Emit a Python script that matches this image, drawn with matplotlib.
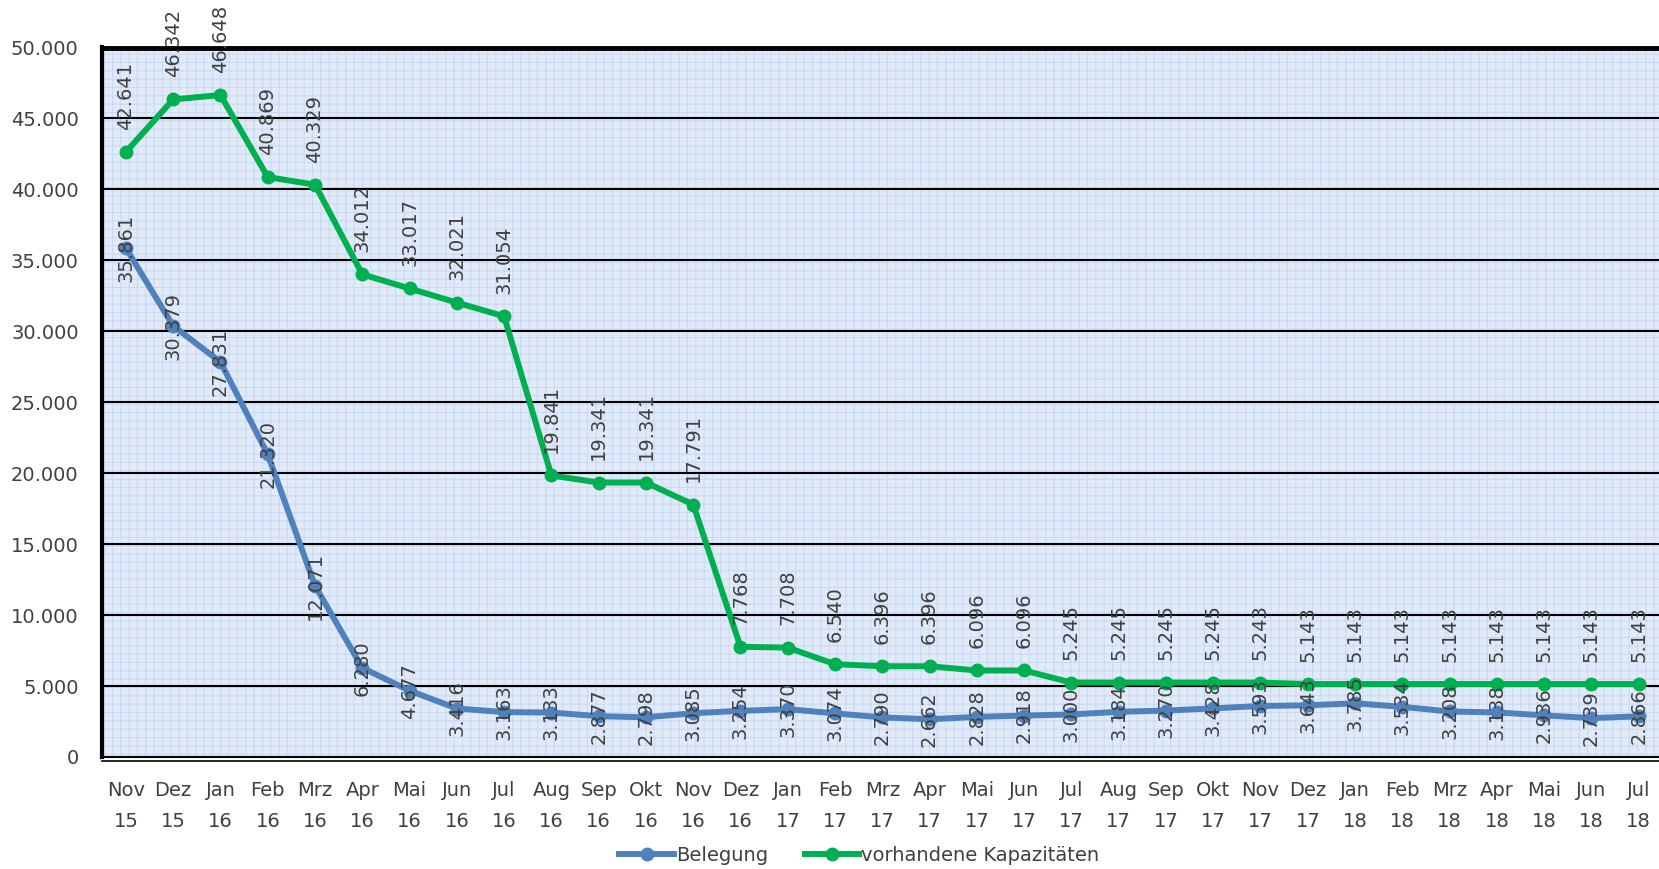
import matplotlib
matplotlib.use("Agg")
import matplotlib.pyplot as plt
from matplotlib.patches import Rectangle
from matplotlib.lines import Line2D

# ── Daten ────────────────────────────────────────────────────────────────────
monate = ["Nov", "Dez", "Jan", "Feb", "Mrz", "Apr", "Mai", "Jun", "Jul", "Aug", "Sep",
          "Okt", "Nov", "Dez", "Jan", "Feb", "Mrz", "Apr", "Mai", "Jun", "Jul", "Aug",
          "Sep", "Okt", "Nov", "Dez", "Jan", "Feb", "Mrz", "Apr", "Mai", "Jun", "Jul"]
jahre = ["15", "15", "16", "16", "16", "16", "16", "16", "16", "16", "16",
         "16", "16", "16", "17", "17", "17", "17", "17", "17", "17", "17",
         "17", "17", "17", "17", "18", "18", "18", "18", "18", "18", "18"]

belegung = [35861, 30379, 27831, 21320, 12071, 6280, 4677, 3416, 3163, 3133, 2877,
            2798, 3085, 3254, 3370, 3074, 2790, 2662, 2828, 2918, 3000, 3184,
            3270, 3428, 3593, 3643, 3785, 3534, 3208, 3138, 2936, 2739, 2866]
kapazitaet = [42641, 46342, 46648, 40869, 40329, 34012, 33017, 32021, 31054, 19841, 19341,
              19341, 17791, 7768, 7708, 6540, 6396, 6396, 6096, 6096, 5245, 5245,
              5245, 5245, 5243, 5143, 5143, 5143, 5143, 5143, 5143, 5143, 5143]

# ── Stil ─────────────────────────────────────────────────────────────────────
BLAU = "#4f81bd"
GRUEN = "#00b050"
TEXT = "#404040"
plt.rcParams["font.family"] = ["DejaVu Sans"]
plt.rcParams["hatch.color"] = "#c8d9f1"
plt.rcParams["hatch.linewidth"] = 0.7


def fmt(v):
    return f"{v:,}".replace(",", ".")


W, H = 1659, 869
fig = plt.figure(figsize=(W / 100, H / 100), dpi=100)
# Achse reicht rechts etwas über den Bildrand hinaus (wie im Original)
ax = fig.add_axes([102.3 / W, (H - 757) / H, 1560 / W, 709.5 / H])

# Hintergrund mit feinem Muster
ax.set_facecolor("#e0eaf8")
ax.add_patch(Rectangle((0, 0), 1, 1, transform=ax.transAxes, facecolor="none",
                       edgecolor="#c8d9f1", hatch="++", linewidth=0, zorder=0))

x = list(range(len(monate)))
ax.plot(x, belegung, color=BLAU, lw=4.3, marker="o", ms=9, zorder=3)
ax.plot(x, kapazitaet, color=GRUEN, lw=4.3, marker="o", ms=9, zorder=3)

for xi, v in zip(x, belegung):
    ax.text(xi, v, fmt(v), rotation=90, ha="center", va="center",
            fontsize=14, color=TEXT, zorder=4)
for xi, v in zip(x, kapazitaet):
    ax.annotate(fmt(v), (xi, v), xytext=(0, 16), textcoords="offset points",
                rotation=90, ha="center", va="bottom", fontsize=14, color=TEXT,
                zorder=4, annotation_clip=False)

ax.set_xlim(-0.5, 32.5)
ax.set_ylim(0, 50000)
ax.set_yticks(range(0, 50001, 5000))
ax.set_yticklabels([fmt(v) for v in range(0, 50001, 5000)])
ax.set_xticks(x)
ax.set_xticklabels([f"{m}\n{j}" for m, j in zip(monate, jahre)], linespacing=1.8)
ax.tick_params(axis="both", length=0, labelsize=14, colors=TEXT)
ax.tick_params(axis="y", pad=17)
ax.tick_params(axis="x", pad=17)

for yv in range(5000, 50000, 5000):
    ax.axhline(yv, color="black", lw=1.5, zorder=1)

ax.spines["top"].set_linewidth(3.5)
ax.spines["left"].set_linewidth(3)
ax.spines["right"].set_visible(False)
ax.spines["bottom"].set_linewidth(1.5)
ax.plot([0, 1], [-0.006, -0.006], transform=ax.transAxes, color="black",
        lw=1.2, clip_on=False)

handles = [Line2D([], [], color=BLAU, lw=4.3, marker="o", ms=9),
           Line2D([], [], color=GRUEN, lw=4.3, marker="o", ms=9)]
fig.legend(handles, ["Belegung", "vorhandene Kapazitäten"], loc="center",
           bbox_to_anchor=(0.518, 0.016), ncol=2, frameon=False, fontsize=14,
           handlelength=2.8, handletextpad=0.1, columnspacing=1.9,
           labelcolor=TEXT)

fig.savefig("out.png", dpi=100, facecolor="white")
